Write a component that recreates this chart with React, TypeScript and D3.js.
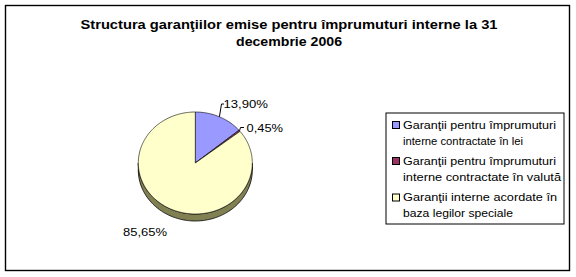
import React from "react";
import * as d3 from "d3";

const title = ["Structura garanţiilor emise pentru împrumuturi interne la 31", "decembrie 2006"];
const categories = [
  ["Garanţii pentru împrumuturi", "interne contractate în lei"],
  ["Garanţii pentru împrumuturi", "interne contractate în valută"],
  ["Garanţii interne acordate în", "baza legilor speciale"],
];
const values = [13.9, 0.45, 85.65];
const valueLabels = ["13,90%", "0,45%", "85,65%"];
const colors = ["#9999FF", "#993366", "#FFFFCC"];

// layout
const W = 576, H = 277;
const FONT = "'Liberation Sans', Arial, sans-serif";
const cx = 195.3, cy = 163, rx = 57, ry = 51, depth = 7;
const titleWidths = [417, 106];
const legendWidths = [[153, 120], [153, 158], [154, 110]];
const labelLayout = [
  { tx: 223.5, ty: 108, w: 44.5, elbow: [221.5, 104] as number[] | null, tick: 224 },
  { tx: 246.5, ty: 132, w: 36.5, elbow: [240.5, 127.5] as number[] | null, tick: 244 },
  { tx: 123, ty: 236, w: 44, elbow: null as number[] | null, tick: 0 },
];

const pt = (a: number, dy = 0): [number, number] => [cx + rx * Math.sin(a), cy - ry * Math.cos(a) + dy];

function arcPoints(a0: number, a1: number, dy = 0) {
  const n = Math.max(2, Math.ceil(Math.abs(a1 - a0) / 0.02));
  return d3.range(n + 1).map((i) => pt(a0 + ((a1 - a0) * i) / n, dy));
}

export default function App() {
  const pie = d3.pie<number>().sort(null).startAngle(0).endAngle(2 * Math.PI);
  const arcs = pie(values);
  const line = d3.line();

  const sides = arcs.map((a, i) => {
    const s = Math.max(a.startAngle, Math.PI / 2);
    const e = Math.min(a.endAngle, (3 * Math.PI) / 2);
    if (e <= s) return null;
    const top = arcPoints(s, e);
    const bot = arcPoints(e, s, depth);
    const c = d3.rgb(colors[i]);
    const fill = d3.rgb(c.r * 0.5, c.g * 0.5, c.b * 0.4).formatHex();
    return <path key={"s" + i} d={line([...top, ...bot])! + "Z"} fill={fill} stroke="#000" strokeWidth={0.8} />;
  });

  const tops = arcs.map((a, i) => {
    const pts: [number, number][] = [[cx, cy], ...arcPoints(a.startAngle, a.endAngle)];
    return <path key={"t" + i} d={line(pts)! + "Z"} fill={colors[i]} stroke="#000" strokeWidth={0.6} strokeLinejoin="round" />;
  });

  const labels = arcs.map((a, i) => {
    const mid = (a.startAngle + a.endAngle) / 2;
    const p = pt(mid);
    const L = labelLayout[i];
    return (
      <g key={"l" + i}>
        {L.elbow && (
          <polyline
            points={`${p[0]},${p[1]} ${L.elbow[0]},${L.elbow[1]} ${L.tick},${L.elbow[1]}`}
            fill="none"
            stroke="#000"
            strokeWidth={1}
          />
        )}
        <text x={L.tx} y={L.ty} fontSize={11} fontFamily={FONT} textLength={L.w} lengthAdjust="spacingAndGlyphs">
          {valueLabels[i]}
        </text>
      </g>
    );
  });

  const legendY = [121, 157, 193.5];
  return (
    <svg width={W} height={H} style={{ position: "absolute", left: 0, top: 0 }}>
      <rect x={0} y={0} width={W} height={H} fill="#fff" />
      <rect x={5.5} y={5.5} width={564} height={265} fill="none" stroke="#000" strokeWidth={1.4} />
      {title.map((t, i) => (
        <text
          key={i}
          x={289}
          y={28.5 + i * 17.5}
          textAnchor="middle"
          fontSize={12.5}
          fontWeight="bold"
          fontFamily={FONT}
          textLength={titleWidths[i]}
          lengthAdjust="spacingAndGlyphs"
        >
          {t}
        </text>
      ))}
      {sides}
      {tops}
      {labels}
      <rect x={386} y={113} width={178} height={111} fill="#fff" stroke="#000" strokeWidth={1} />
      {categories.map((c, i) => (
        <g key={"lg" + i}>
          <rect x={392.5} y={legendY[i] + 0.5} width={7} height={7} fill={colors[i]} stroke="#000" strokeWidth={1} />
          {c.map((ln, j) => (
            <text
              key={j}
              x={403}
              y={legendY[i] + 7.5 + j * 16}
              fontSize={11}
              fontFamily={FONT}
              textLength={legendWidths[i][j]}
              lengthAdjust="spacingAndGlyphs"
            >
              {ln}
            </text>
          ))}
        </g>
      ))}
    </svg>
  );
}
